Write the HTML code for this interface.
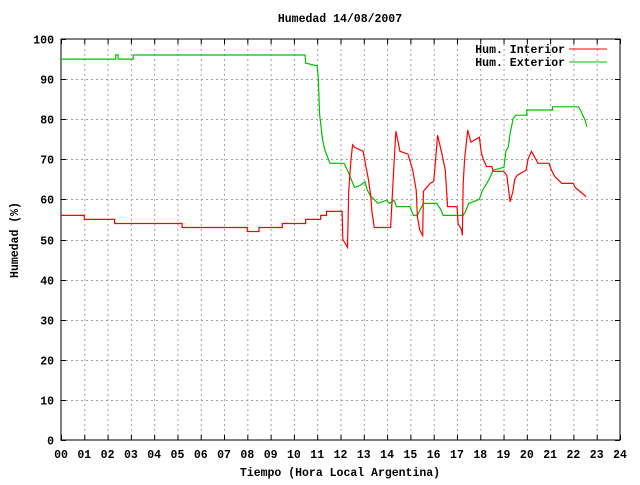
<!DOCTYPE html>
<html><head><meta charset="utf-8"><style>
body{margin:0;background:#fff}
svg text{font-family:"Liberation Mono",monospace;font-weight:bold;font-size:11.5px;fill:#000}
</style></head><body>
<svg id="chart" width="640" height="480" viewBox="0 0 640 480" xmlns="http://www.w3.org/2000/svg">
<rect width="640" height="480" fill="#fff"/>
<text x="340" y="22" text-anchor="middle">Humedad 14/08/2007</text>
<text transform="translate(18,240) rotate(-90)" text-anchor="middle">Humedad (%)</text>
<text x="340" y="476" text-anchor="middle">Tiempo (Hora Local Argentina)</text>
<g id="grid"></g>
<g id="ticks"></g>
<rect x="61" y="39" width="559" height="401" fill="none" stroke="#000" stroke-width="1"/>
<g id="series"></g>
<g>
<text x="565" y="53" text-anchor="end">Hum. Interior</text>
<line x1="569" y1="49" x2="607" y2="49" stroke="#f00"/>
<text x="565" y="66" text-anchor="end">Hum. Exterior</text>
<line x1="569" y1="62" x2="607" y2="62" stroke="#00c000"/>
</g>
</svg>
<script>
const xTicks=["00","01","02","03","04","05","06","07","08","09","10","11","12","13","14","15","16","17","18","19","20","21","22","23","24"];
const yTicks=[0,10,20,30,40,50,60,70,80,90,100];
const interiorH=[0,1.0,1.0,2.3,2.3,5.2,5.2,8.0,8.0,8.5,8.5,9.5,9.5,10.5,10.5,11.15,11.15,11.4,11.4,12.07,12.1,12.2,12.3,12.35,12.45,12.52,12.6,12.97,13.1,13.2,13.3,13.35,13.45,14.15,14.2,14.28,14.38,14.45,14.55,14.9,15.1,15.25,15.3,15.4,15.53,15.56,15.85,16.0,16.07,16.17,16.35,16.5,16.6,17.0,17.05,17.2,17.23,17.27,17.33,17.46,17.6,17.96,18.05,18.13,18.27,18.5,18.55,19.0,19.14,19.28,19.4,19.48,19.58,19.97,20.05,20.2,20.48,20.95,21.05,21.2,21.5,22.0,22.07,22.36,22.55];
const interiorV=[56,56,55,55,54,54,53,53,52,52,53,53,54,54,55,55,56,56,57,57,50,49,48,62,70,73.6,73,72,68,65,60.7,57,53,53,58,67,77,75,72,71.3,67.3,62.3,55.7,52.4,51,62,64,64.5,69,76,71.5,67.3,58.2,58.2,54,52.4,51,64,70,77.3,74.3,75.5,71.6,70,68.2,68.2,67,67,66,59.4,62,65,66,67.3,70,72,69,69,67.4,65.7,64,64,63,61.6,60.7];
const exteriorH=[0,2.35,2.35,2.45,2.45,3.1,3.1,10.48,10.5,11.0,11.05,11.1,11.18,11.23,11.33,11.44,11.55,12.15,12.3,12.41,12.6,12.85,13.05,13.15,13.27,13.48,13.6,13.98,14.1,14.3,14.4,14.98,15.13,15.3,15.56,16.13,16.3,16.41,17.27,17.37,17.5,17.96,18.1,18.28,18.4,18.5,18.56,19.02,19.1,19.2,19.28,19.42,19.54,20.0,20.0,21.1,21.1,22.21,22.3,22.4,22.5,22.57];
const exteriorV=[95,95,96,96,95,95,96,96,94,93.3,89.8,81.5,77.3,74.8,72.3,70.6,69,69,67.3,65.7,63,63.5,64.4,62.3,61,59.8,59,59.8,59,59.8,58.2,58.2,56,56,59,59,57.5,56,56,57,59,60,62.3,64,65.3,66.5,67.3,68,72,73,76.5,80.3,81,81,82.3,82.3,83.1,83.1,82.3,81,79.8,78.1];
const NS="http://www.w3.org/2000/svg";
const X0=61,X1=620,Y0=440,Y1=39;
function xs(h){return X0+(X1-X0)*h/24;}
function ys(v){return Y0-(Y0-Y1)*v/100;}
function mk(tag,attrs,parent){const e=document.createElementNS(NS,tag);for(const k in attrs)e.setAttribute(k,attrs[k]);parent.appendChild(e);return e;}
const grid=document.getElementById('grid'),ticks=document.getElementById('ticks'),series=document.getElementById('series');
xTicks.forEach((t,i)=>{
  const x=xs(i)+0.5;
  if(i>0&&i<24){const g=mk('line',{x1:x,y1:Y1,x2:x,y2:Y0,stroke:'#a0a0a0','stroke-dasharray':'2,3'},grid);
  
  }
  const tk=mk('path',{d:`M${x},${Y0}v-5M${x},${Y1}v5`,stroke:'#000'},ticks);
  
  
  const tx=mk('text',{x:xs(i),y:458,'text-anchor':'middle'},ticks);tx.textContent=t;
  
  
});
yTicks.forEach(v=>{
  const y=Math.round(ys(v))+0.5;
  if(v>0&&v<100){const g=mk('line',{x1:X0,y1:y,x2:X1,y2:y,stroke:'#a0a0a0','stroke-dasharray':'2,3'},grid);
  
  }
  const tk=mk('path',{d:`M${X0},${y}h5M${X1},${y}h-5`,stroke:'#000'},ticks);
  
  
  const tx=mk('text',{x:54,y:y+4,'text-anchor':'end'},ticks);tx.textContent=v;
  
  
});
function line(H,V,color,name){
  const pts=H.map((h,i)=>xs(h).toFixed(1)+','+ys(V[i]).toFixed(1)).join(' ');
  const p=mk('polyline',{points:pts,fill:'none',stroke:color,'stroke-width':1.2},series);
  
  
}
line(exteriorH,exteriorV,'#00c000','exterior-humidity-line');
line(interiorH,interiorV,'#f00','interior-humidity-line');
</script>
</body></html>
